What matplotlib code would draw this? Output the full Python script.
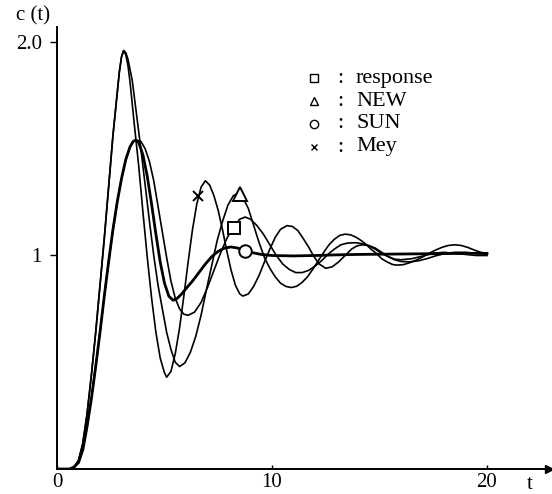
import matplotlib.pyplot as plt

# step responses
t_mey = [0, 0.6, 0.8, 1.0, 1.2, 1.4, 1.6, 1.8, 2.0, 2.2, 2.4, 2.6, 2.8, 2.9, 3.0, 3.1,
         3.2, 3.3, 3.4, 3.6, 3.8, 4.0, 4.2, 4.4, 4.6, 4.8, 5.0, 5.1, 5.3, 5.5, 5.7, 5.9,
         6.1, 6.3, 6.5, 6.7, 6.9, 7.1, 7.3, 7.5, 7.7, 7.9, 8.1, 8.3, 8.5, 8.65, 8.9,
         9.15, 9.4, 9.65, 9.9, 10.15, 10.4, 10.7, 10.95, 11.2, 11.45, 11.7, 11.95,
         12.2, 12.5, 12.8, 13.1, 13.4, 13.7, 13.95, 14.2, 14.5, 14.8, 15.1, 15.4,
         15.7, 16.0, 16.5, 17.0, 17.5, 18.0, 18.5, 19.0, 19.5, 20.0]
c_mey = [0, 0, 0.01, 0.04, 0.12, 0.26, 0.44, 0.64, 0.86, 1.08, 1.32, 1.56, 1.76, 1.86, 1.93, 1.96,
         1.94, 1.89, 1.81, 1.61, 1.42, 1.20, 0.99, 0.80, 0.64, 0.52, 0.45, 0.43, 0.457, 0.54, 0.66, 0.81,
         0.97, 1.12, 1.24, 1.32, 1.35, 1.33, 1.28, 1.21, 1.12, 1.02, 0.93, 0.86, 0.82, 0.81, 0.82,
         0.856, 0.907, 0.97, 1.03, 1.085, 1.123, 1.14, 1.136, 1.117, 1.08, 1.04, 0.995,
         0.96, 0.94, 0.947, 0.97, 1.0, 1.03, 1.045, 1.05, 1.047, 1.035, 1.015, 0.995,
         0.983, 0.98, 0.985, 0.997, 1.01, 1.015, 1.01, 1.005, 1.0, 1.0]

t_new = [0, 0.6, 0.8, 1.0, 1.2, 1.4, 1.6, 1.8, 2.0, 2.2, 2.4, 2.6, 2.8, 2.9, 3.0, 3.1,
         3.2, 3.3, 3.5, 3.7, 3.9, 4.1, 4.3, 4.5, 4.7, 4.9, 5.1, 5.3, 5.5, 5.7, 5.95, 6.2,
         6.45, 6.7, 6.95, 7.2, 7.45, 7.7, 7.95, 8.2, 8.4, 8.65, 8.9, 9.15, 9.4, 9.65,
         9.9, 10.15, 10.4, 10.65, 10.9, 11.15, 11.4, 11.65, 11.9, 12.15, 12.4, 12.65,
         12.9, 13.15, 13.4, 13.65, 13.9, 14.15, 14.4, 14.6, 14.85, 15.1, 15.35, 15.6,
         15.8, 16.1, 16.4, 16.7, 17.0, 17.3, 17.6, 17.9, 18.2, 18.5, 18.8, 19.1, 19.4,
         19.7, 20.0]
c_new = [0, 0, 0.01, 0.04, 0.12, 0.26, 0.44, 0.64, 0.86, 1.08, 1.32, 1.56, 1.76, 1.86, 1.93, 1.96,
         1.95, 1.92, 1.82, 1.66, 1.50, 1.33, 1.16, 1.0, 0.86, 0.75, 0.64, 0.56, 0.50, 0.48, 0.497, 0.546,
         0.62, 0.72, 0.84, 0.955, 1.07, 1.16, 1.236, 1.28, 1.29, 1.27, 1.22, 1.14, 1.06, 0.99,
         0.94, 0.90, 0.87, 0.855, 0.85, 0.856, 0.874, 0.90, 0.936, 0.975, 1.014, 1.05,
         1.076, 1.094, 1.10, 1.097, 1.086, 1.07, 1.05, 1.03, 1.01, 0.985, 0.97, 0.958,
         0.955, 0.957, 0.966, 0.978, 0.993, 1.01, 1.025, 1.038, 1.047, 1.05, 1.047, 1.038, 1.026,
         1.015, 1.01]

t_resp = [0, 0.6, 0.8, 1.0, 1.2, 1.4, 1.6, 1.8, 2.0, 2.2, 2.4, 2.6, 2.8, 3.0, 3.2, 3.4,
          3.55, 3.7, 3.9, 4.1, 4.3, 4.5, 4.7, 4.9, 5.1, 5.3, 5.5, 5.7, 5.9, 6.1, 6.4, 6.7,
          7.0, 7.3, 7.6, 7.9, 8.2, 8.5, 8.75, 9.0, 9.3, 9.6, 9.9, 10.2, 10.5, 10.8, 11.1,
          11.4, 11.7, 12.0, 12.3, 12.6, 12.9, 13.2, 13.5, 13.9, 14.2, 14.5, 14.8, 15.1,
          15.4, 15.7, 16.0, 16.4, 16.8, 17.2, 17.6, 18.0, 18.5, 19.0, 19.5, 20.0]
c_resp = [0, 0, 0.01, 0.03, 0.09, 0.20, 0.33, 0.48, 0.64, 0.81, 0.97, 1.12, 1.25, 1.36, 1.45, 1.51,
          1.535, 1.54, 1.535, 1.50, 1.44, 1.35, 1.23, 1.11, 0.99, 0.88, 0.80, 0.75, 0.725, 0.72, 0.735, 0.78,
          0.85, 0.93, 1.01, 1.08, 1.135, 1.17, 1.18, 1.17, 1.14, 1.10, 1.05, 1.0, 0.96, 0.935, 0.92,
          0.92, 0.93, 0.95, 0.975, 1.005, 1.03, 1.05, 1.058, 1.06, 1.055, 1.045, 1.03, 1.01,
          0.995, 0.98, 0.972, 0.97, 0.975, 0.985, 0.998, 1.008, 1.015, 1.015, 1.01, 1.005]

t_sun = [0, 0.6, 0.8, 1.0, 1.2, 1.4, 1.6, 1.8, 2.0, 2.2, 2.4, 2.6, 2.8, 3.0, 3.2, 3.4,
         3.55, 3.65, 3.8, 4.0, 4.2, 4.4, 4.6, 4.8, 5.0, 5.2, 5.4, 5.6, 5.8, 6.0, 6.3, 6.6,
         6.9, 7.2, 7.5, 7.8, 8.1, 8.4, 8.7, 9.0, 9.5, 10.0, 11.0, 12.0, 13.0, 14.0, 15.0,
         16.0, 17.0, 18.0, 19.0, 20.0]
c_sun = [0, 0, 0.01, 0.03, 0.09, 0.20, 0.33, 0.48, 0.64, 0.81, 0.97, 1.12, 1.25, 1.36, 1.45, 1.51,
         1.535, 1.54, 1.53, 1.47, 1.37, 1.24, 1.10, 0.97, 0.87, 0.81, 0.79, 0.80, 0.82, 0.845, 0.88, 0.92,
         0.96, 0.995, 1.02, 1.035, 1.04, 1.035, 1.025, 1.015, 1.005, 1.0, 0.998, 1.0, 1.003, 1.005, 1.006,
         1.007, 1.008, 1.009, 1.01, 1.01]

# marker positions on the curves
mark_resp = (8.25, 1.13)
mark_new = (8.5, 1.29)
mark_sun = (8.75, 1.02)
mark_mey = (6.55, 1.28)

legend_names = ["response", "NEW", "SUN", "Mey"]
legend_marks = ["s", "^", "o", "x"]

plt.rcParams['font.family'] = ['Liberation Serif', 'DejaVu Serif']

fig = plt.figure(figsize=(5.52, 4.94), dpi=100)
ax = fig.add_axes([57 / 552, 25 / 494, 492 / 552, 442 / 494])

lw = 1.2
ax.plot(t_mey, c_mey, color='k', lw=lw)
ax.plot(t_new, c_new, color='k', lw=lw)
ax.plot(t_resp, c_resp, color='k', lw=lw)
ax.plot(t_sun, c_sun, color='k', lw=2.0)

mk = dict(color='k', mfc='white', mec='k', mew=1.4, ls='none')
ax.plot(*mark_resp, marker='s', ms=9, **mk)
ax.plot(*mark_new, marker='^', ms=10, **mk)
ax.plot(*mark_sun, marker='o', ms=9, **mk)
ax.plot(*mark_mey, marker='x', ms=7, **mk)

ax.set_xlim(0, 492 / 21.5)
ax.set_ylim(0, 442 / 213.5)

for s in ['top', 'right']:
    ax.spines[s].set_visible(False)
for s in ['left', 'bottom']:
    ax.spines[s].set_linewidth(1.4)
ax.plot(1, 0, '>k', ms=6, transform=ax.get_yaxis_transform(), clip_on=False)

ax.set_xticks([0, 10, 20])
ax.set_xticklabels(['0', '10', '20'], fontsize=15)
ax.set_yticks([1, 2])
ax.set_yticklabels(['1', '2.0'], fontsize=15)
ax.tick_params(axis='x', direction='in', length=3, width=1, pad=3)
ax.tick_params(axis='y', direction='out', length=5, width=1, pad=6)

fig.text(33 / 552, 1 - 16 / 494, 'c (t)', fontsize=15, ha='center', va='center')
fig.text(530 / 552, 1 - 484 / 494, 't', fontsize=15, ha='center', va='center')

# hand-made legend
for i, (name, m) in enumerate(zip(legend_names, legend_marks)):
    y = 1 - (78 + i * 23) / 494
    fig.lines.append(plt.Line2D([314 / 552], [y], marker=m, ms=6 if m != 'x' else 5,
                                mfc='white', mec='k', mew=1.0, ls='none',
                                transform=fig.transFigure))
    fig.text(340 / 552, y, ':', fontsize=16, ha='center', va='center')
    fig.text(356 / 552, y, name, fontsize=16, ha='left', va='center')

fig.savefig('out.png', dpi=100)
